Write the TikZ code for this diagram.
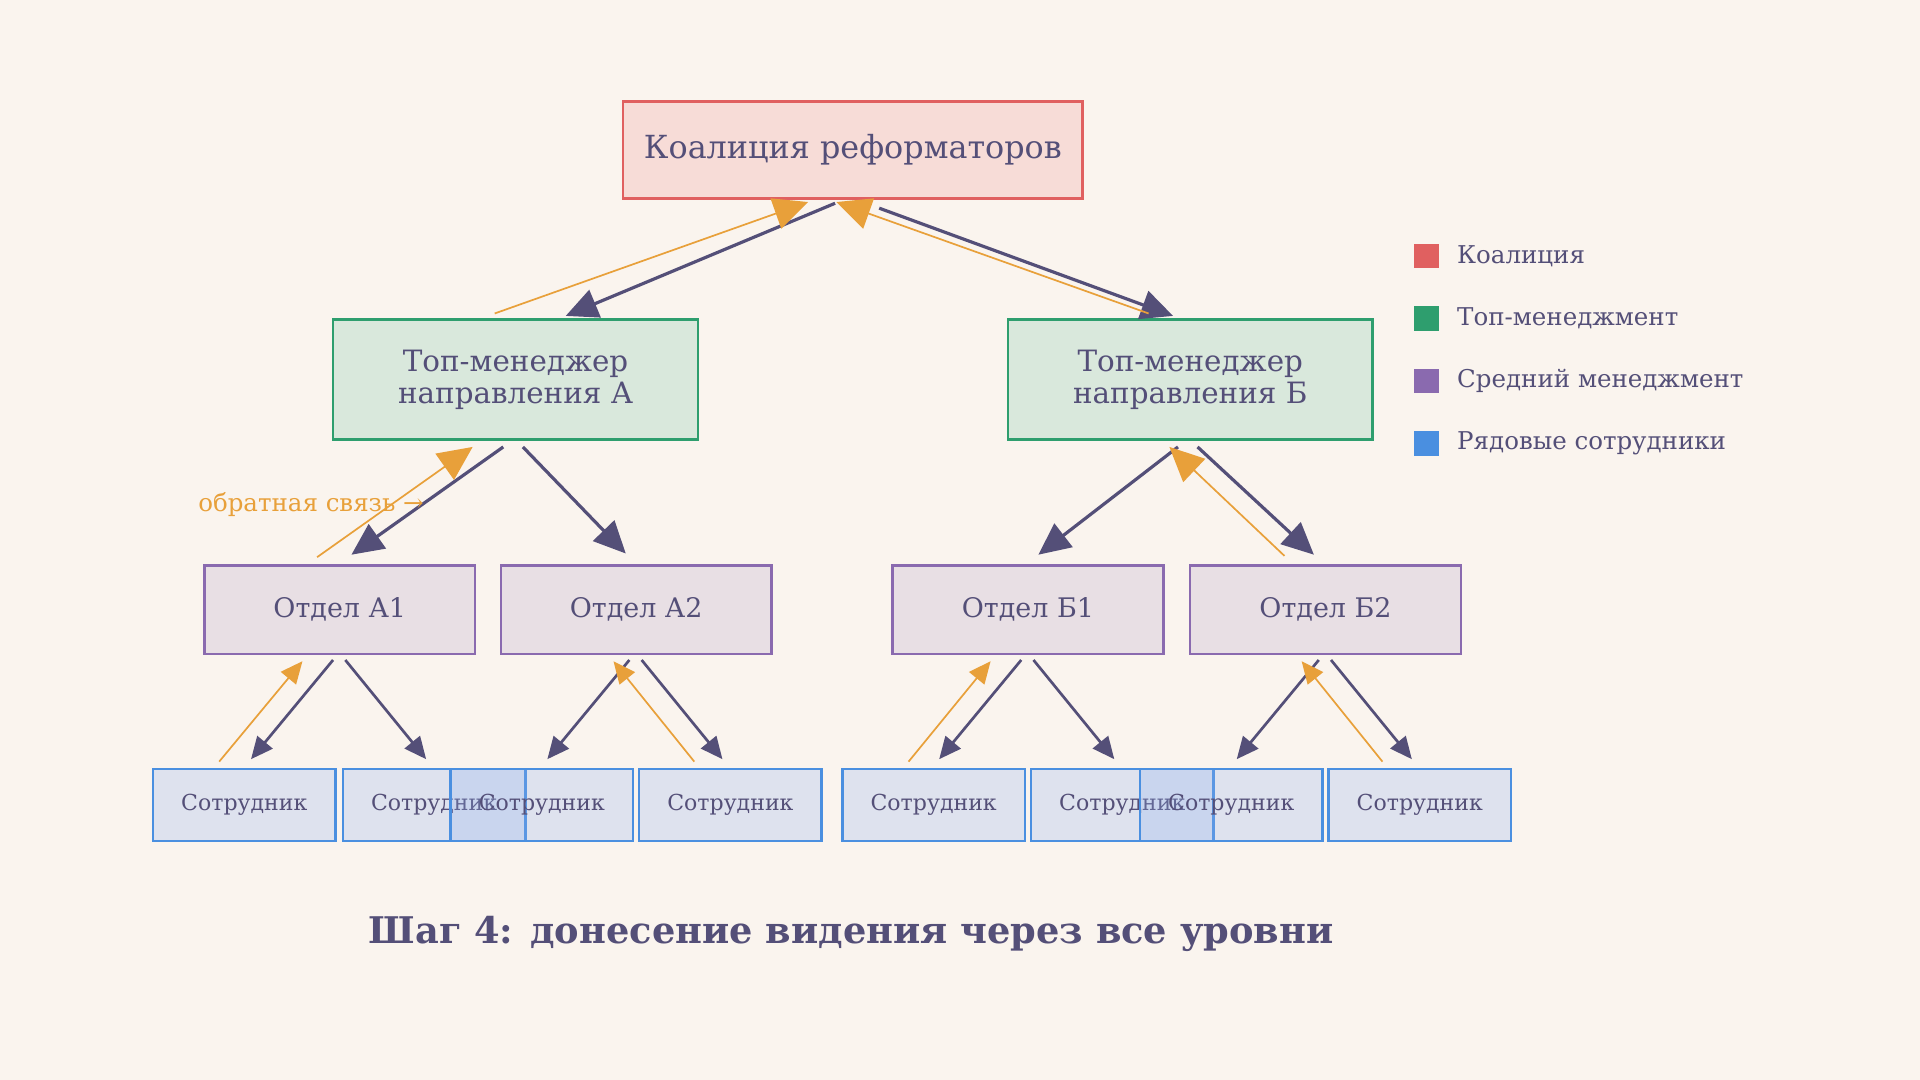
\documentclass[tikz,border=0pt]{standalone}
\usepackage{fontspec}
\setmainfont{DejaVu Serif}
\usetikzlibrary{arrows.meta}
\definecolor{bg}{RGB}{250,244,238}
\definecolor{ink}{RGB}{84,79,120}
\definecolor{org}{RGB}{232,160,58}
\definecolor{cR}{RGB}{224,96,96}\definecolor{fR}{RGB}{247,220,215}
\definecolor{cG}{RGB}{46,158,110}\definecolor{fG}{RGB}{217,232,220}
\definecolor{cP}{RGB}{138,106,175}\definecolor{fP}{RGB}{232,223,228}
\definecolor{cB}{RGB}{74,143,224}\definecolor{fB}{RGB}{142,176,238}
\begin{document}
\begin{tikzpicture}[x=0.5pt,y=-0.5pt,
  box/.style={draw,line width=1pt,text=ink,align=center,inner sep=0pt,anchor=north west},
  dk/.style={draw=ink,line width=1.3pt,-{Triangle[length=13pt,width=12pt]}},
  dks/.style={draw=ink,line width=1.1pt,-{Triangle[length=9pt,width=8pt]}},
  og/.style={draw=org,line width=0.7pt,-{Triangle[length=14pt,width=13pt]}},
  ogs/.style={draw=org,line width=0.7pt,-{Triangle[length=9pt,width=8pt]}},
  emp/.style={box,draw=cB,fill=fB,fill opacity=0.25,text opacity=1,minimum width=74.5pt,minimum height=29.5pt,font=\fontsize{9}{10}\selectfont},
  dep/.style={box,draw=cP,fill=fP,minimum width=110.5pt,minimum height=36pt,font=\fontsize{11}{12}\selectfont},
  top/.style={box,draw=cG,fill=fG,minimum width=149pt,minimum height=49pt,font=\fontsize{12}{13}\selectfont},
  leg/.style={anchor=west,text=ink,font=\fontsize{10}{11}\selectfont}]
\useasboundingbox (0,0) rectangle (1568,882);
\fill[bg] (0,0) rectangle (1568,882);
\node[box,draw=cR,fill=fR,minimum width=187.5pt,minimum height=39.5pt,font=\fontsize{13}{14}\selectfont] (c) at (508,82) {Коалиция реформаторов};
\node[top] (ta) at (271,260) {Топ-менеджер\\направления А};
\node[top] (tb) at (822,260) {Топ-менеджер\\направления Б};
\node[dep] (a1) at (166,461) {Отдел А1};
\node[dep] (a2) at (408,461) {Отдел А2};
\node[dep] (b1) at (728,461) {Отдел Б1};
\node[dep] (b2) at (971,461) {Отдел Б2};
\foreach \n/\x in {e1/124,e2/279,e3/367,e4/521,e5/687,e6/841,e7/930,e8/1084}
  \node[emp] (\n) at (\x,627) {Сотрудник};
% top level
\draw[dk] (682,166) -- (462,258);
\draw[dk] (718,170) -- (958,258);
\draw[og] (404,256) -- (660,165);
\draw[og] (938,256) -- (683,165);
% level 2
\draw[dk] (411,365) -- (287,453);
\draw[dk] (427,365) -- (511,452);
\draw[og] (259,455) -- (386,365);
\node[text=org,font=\fontsize{10}{11}\selectfont] (fb) at (254,412) {обратная связь →};
\draw[dk] (962,365) -- (848,453);
\draw[dk] (978,365) -- (1073,453);
\draw[og] (1049,454) -- (955,365);
% level 3
\foreach \dx in {0,242,562,805}{
  \begin{scope}[xshift=\dx*0.5pt]
  \draw[dks] (272,539) -- (205,620);
  \draw[dks] (282,539) -- (348,620);
  \end{scope}}
\draw[ogs] (179,622) -- (247,540);
\draw[ogs] (567,622) -- (501,540);
\draw[ogs] (742,622) -- (809,540);
\draw[ogs] (1129,622) -- (1063,540);
% legend
\foreach \y/\c/\t/\n in {209/cR/Коалиция/l1,260/cG/Топ-менеджмент/l2,311/cP/Средний менеджмент/l3,362/cB/Рядовые сотрудники/l4}{
  \fill[\c] (1155,\y-10) rectangle (1175,\y+10);
  \node[leg] (\n) at (1183,\y) {\t};}
\node[text=ink,font=\bfseries\fontsize{15}{18}\selectfont] (title) at (695,763) {Шаг 4: донесение видения через все уровни};
\end{tikzpicture}
\end{document}
